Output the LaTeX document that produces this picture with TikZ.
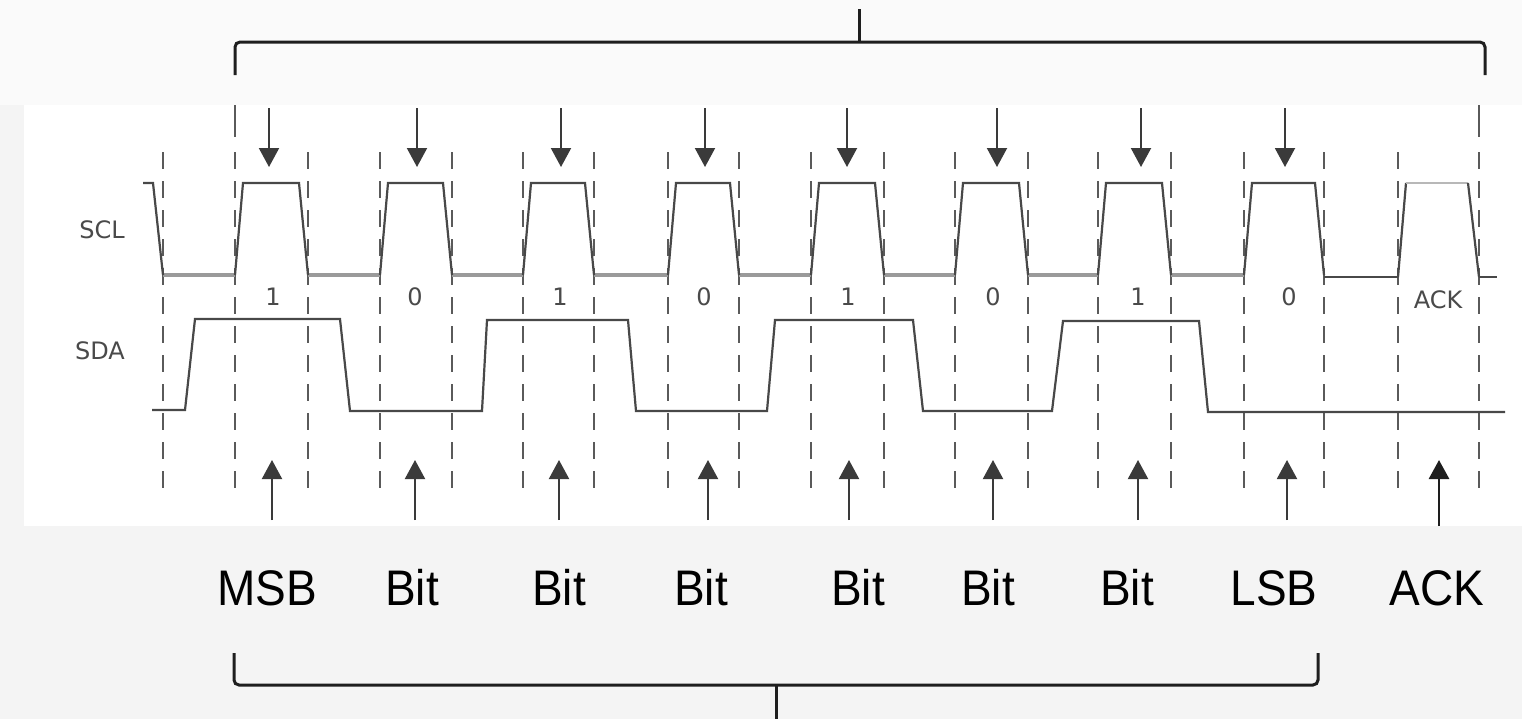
\documentclass[tikz,border=0pt]{standalone}
\usepackage{fontspec}
\usetikzlibrary{arrows.meta}
\newfontfamily\labelfont[FakeStretch=0.92]{Liberation Sans}
\newfontfamily\tracefont{DejaVu Sans}
\definecolor{pagegray}{HTML}{F4F4F4}
\definecolor{topgray}{HTML}{FAFAFA}
\definecolor{guidegray}{HTML}{5A5A5A}
\definecolor{lowgray}{HTML}{9A9A9A}
\definecolor{wavegray}{HTML}{484848}
\definecolor{ackgray}{HTML}{B8B8B8}
\definecolor{arrowgray}{HTML}{3A3A3A}
\definecolor{bracegray}{HTML}{1E1E1E}
\definecolor{textgray}{HTML}{4A4A4A}
\tikzset{
  guide/.style={draw=guidegray, line width=1pt, dash pattern=on 8.5pt off 6pt},
  scllow/.style={draw=lowgray, line width=1.8pt},
  wave/.style={draw=wavegray, line width=1.1pt, line join=miter},
  sample/.style={draw=arrowgray, line width=1pt, -{Triangle[length=9.5pt,width=10pt]}},
  brace/.style={draw=bracegray, line width=1.5pt, rounded corners=2.5pt},
  fieldlabel/.style={font=\labelfont\fontsize{25pt}{30pt}\selectfont, text=black, inner sep=0pt},
  siglabel/.style={font=\tracefont\fontsize{12pt}{14pt}\selectfont, text=textgray, inner sep=0pt},
}
\begin{document}
\begin{tikzpicture}[x=0.5pt,y=-0.5pt]
  % page and plot area
  \useasboundingbox (0,0) rectangle (1522,719);
  \fill[pagegray] (0,0) rectangle (1522,719);
  \fill[topgray] (0,0) rectangle (1522,105);
  \fill[white] (24,105) rectangle (1522,526);

  % bit-boundary guides
  \foreach \x in {163,308,380,452,523,594,668,739,811,884,955,1028,1098,1171,1244,1324,1398}
    \draw[guide] (\x,152) -- (\x,493);
  \foreach \x in {235,1479} {
    \draw[guidegray, line width=1.2pt] (\x,105) -- (\x,137);
    \draw[guide] (\x,152) -- (\x,493);
  }

  % SCL trace: low phases
  \foreach \a/\b in {163/235,308/380,452/523,594/668,739/811,884/955,1028/1098,1171/1244}
    \draw[scllow] (\a,275) -- (\b,275);
  \draw[wave] (1324,277) -- (1398,277);
  \draw[wave] (1479,277) -- (1497,277);
  % SCL trace: clock pulses
  \draw[wave] (143,183) -- (153,183) -- (163,275);
  \foreach \s/\e in {235/308,380/452,523/594,668/739,811/884,955/1028,1098/1171,1244/1324}
    \draw[wave] (\s,275) -- (\s+8,183) -- (\e-9,183) -- (\e,275);
  \draw[wave] (1398,277) -- (1406,183);
  \draw[ackgray, line width=1.1pt] (1406,183) -- (1468,183);
  \draw[wave] (1468,183) -- (1479,277);

  % SDA trace
  \draw[wave] (152,410) -- (185,410) -- (195,319) -- (340,319) -- (350,411)
    -- (482,411) -- (487,320) -- (628,320) -- (636,411) -- (767,411)
    -- (775,320) -- (913,320) -- (923,411) -- (1052,411) -- (1063,321)
    -- (1199,321) -- (1208,412) -- (1505,412);

  % signal names
  \node[siglabel] (scl) at (102,230) {SCL};
  \node[siglabel] (sda) at (100,351) {SDA};

  % data values
  \foreach \x/\v [count=\i] in {273/1,415/0,560/1,704/0,848/1,993/0,1138/1,1289/0}
    \node[siglabel] (val\i) at (\x,297) {\v};
  \node[siglabel] (valack) at (1438,300) {ACK};

  % clock sampling arrows
  \foreach \x [count=\i] in {269,417,561,705,847,997,1141,1285} {
    \coordinate (clkfrom\i) at (\x,108);
    \coordinate (clkto\i) at (\x,167);
    \draw[sample] (clkfrom\i) -- (clkto\i);
  }

  % data sampling arrows
  \foreach \x [count=\i] in {272,415,559,708,849,993,1138,1287} {
    \coordinate (datfrom\i) at (\x,520);
    \coordinate (datto\i) at (\x,460);
    \draw[sample] (datfrom\i) -- (datto\i);
  }
  \coordinate (ackfrom) at (1439,526);
  \coordinate (ackto) at (1439,460);
  \draw[sample, line width=1.4pt, draw=bracegray] (ackfrom) -- (ackto);

  % field names
  \foreach \x/\t [count=\i] in {267/MSB,412/Bit,559/Bit,701/Bit,858/Bit,988/Bit,1127/Bit,1274/LSB,1437/ACK}
    \node[fieldlabel] (field\i) at (\x,588) {\t};

  % byte and frame brackets
  \draw[brace] (235,75) -- (235,42) -- (1485,42) -- (1485,75);
  \draw[brace] (859,42) -- (859,9);
  \draw[brace] (234,653) -- (234,685) -- (1318,685) -- (1318,653);
  \draw[brace] (776,685) -- (776,719);
\end{tikzpicture}
\end{document}
